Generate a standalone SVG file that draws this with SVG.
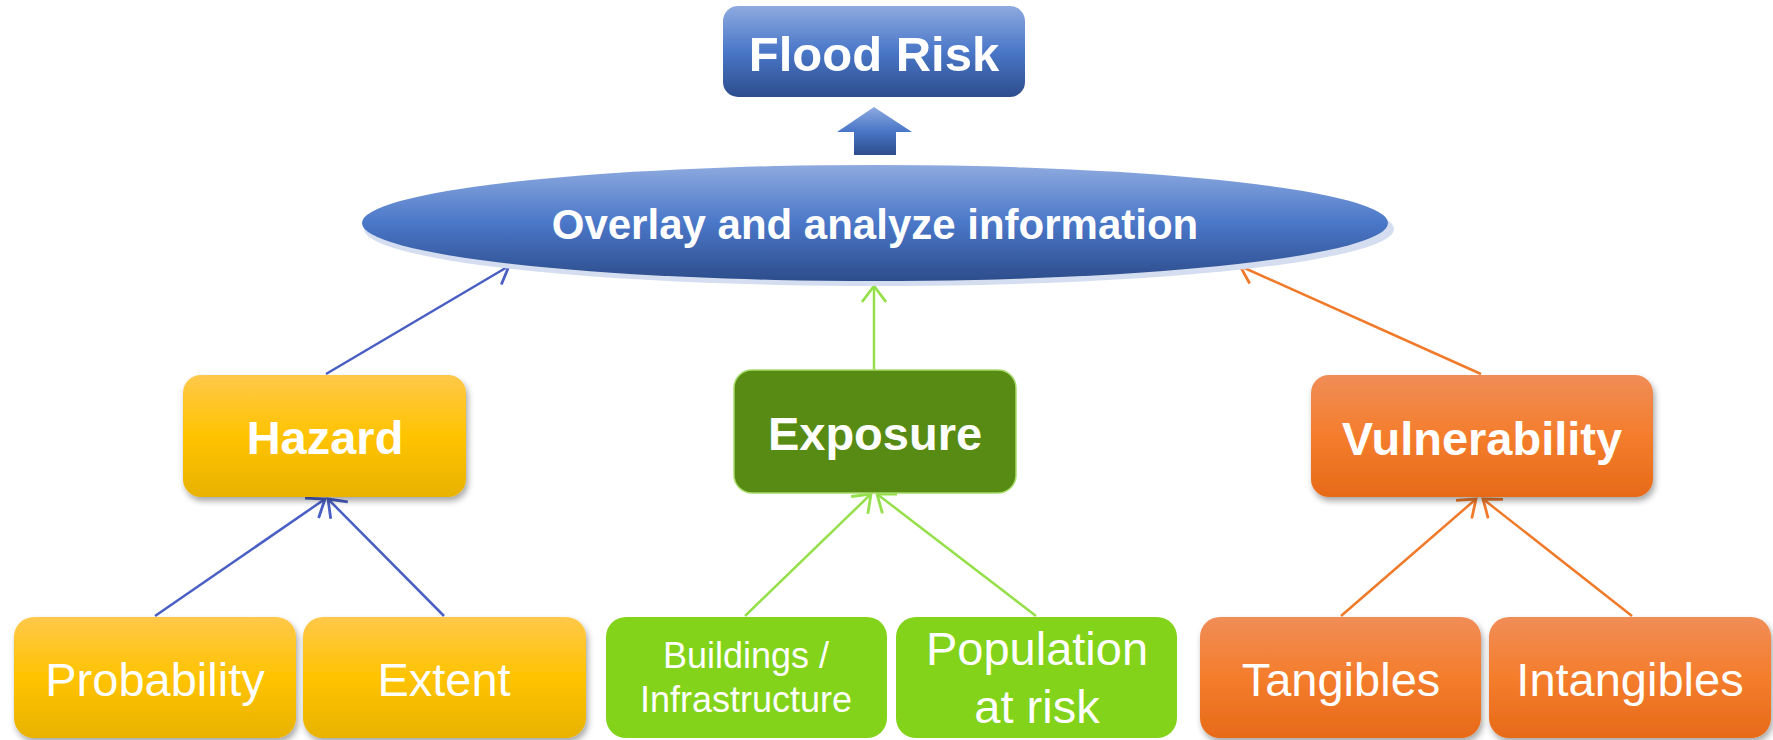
<svg xmlns="http://www.w3.org/2000/svg" width="1773" height="740" viewBox="0 0 1773 740">
<defs>
<linearGradient id="gBlue" x1="0" y1="0" x2="0" y2="1">
<stop offset="0" stop-color="#8eaadf"/><stop offset="0.5" stop-color="#4a77c8"/><stop offset="1" stop-color="#2d4d8c"/>
</linearGradient>
<linearGradient id="gYel" x1="0" y1="0" x2="0" y2="1">
<stop offset="0" stop-color="#ffc84a"/><stop offset="0.5" stop-color="#ffc300"/><stop offset="1" stop-color="#e8b200"/>
</linearGradient>
<linearGradient id="gOra" x1="0" y1="0" x2="0" y2="1">
<stop offset="0" stop-color="#f08d57"/><stop offset="0.5" stop-color="#f47d2c"/><stop offset="1" stop-color="#e76a18"/>
</linearGradient>
<filter id="sh" x="-10%" y="-10%" width="120%" height="130%">
<feDropShadow dx="2" dy="4" stdDeviation="3" flood-color="#000" flood-opacity="0.35"/>
</filter>
<marker id="aBlue" viewBox="0 0 26 26" refX="23" refY="13" markerWidth="26" markerHeight="26" markerUnits="userSpaceOnUse" orient="auto">
<path d="M7,1 L23,13 L7,25" fill="none" stroke="#4a5fc4" stroke-width="2.8"/>
</marker>
<marker id="aGreen" viewBox="0 0 26 26" refX="23" refY="13" markerWidth="26" markerHeight="26" markerUnits="userSpaceOnUse" orient="auto">
<path d="M7,1 L23,13 L7,25" fill="none" stroke="#95e04a" stroke-width="2.8"/>
</marker>
<marker id="aOra" viewBox="0 0 26 26" refX="23" refY="13" markerWidth="26" markerHeight="26" markerUnits="userSpaceOnUse" orient="auto">
<path d="M7,1 L23,13 L7,25" fill="none" stroke="#f07a2a" stroke-width="2.8"/>
</marker>
</defs>
<style>
text{font-family:"Liberation Sans",Arial,sans-serif;fill:#fff;text-anchor:middle}
.b{font-weight:bold}
.big{font-size:47px}
.lb{stroke-width:2.5;fill:none}
</style>
<rect width="1773" height="740" fill="#fff"/>

<g id="connectors">
<line class="lb" stroke="#4a5fc4" x1="326" y1="374" x2="509" y2="266" marker-end="url(#aBlue)"/>
<line class="lb" stroke="#95e04a" x1="874" y1="370" x2="874" y2="286" marker-end="url(#aGreen)"/>
<line class="lb" stroke="#f07a2a" x1="1481" y1="374" x2="1240" y2="266" marker-end="url(#aOra)"/>
<line class="lb" stroke="#4a5fc4" x1="155" y1="616" x2="325" y2="499" marker-end="url(#aBlue)"/>
<line class="lb" stroke="#4a5fc4" x1="444" y1="616" x2="328" y2="499" marker-end="url(#aBlue)"/>
<line class="lb" stroke="#95e04a" x1="745" y1="616" x2="871" y2="494" marker-end="url(#aGreen)"/>
<line class="lb" stroke="#95e04a" x1="1036" y1="616" x2="877" y2="494" marker-end="url(#aGreen)"/>
<line class="lb" stroke="#f07a2a" x1="1341" y1="616" x2="1476" y2="499" marker-end="url(#aOra)"/>
<line class="lb" stroke="#f07a2a" x1="1632" y1="616" x2="1483" y2="499" marker-end="url(#aOra)"/>
</g>

<g id="flood-risk">
<rect x="723" y="6" width="302" height="91" rx="15" fill="url(#gBlue)"/>
<text class="b" x="874" y="71" font-size="49">Flood Risk</text>
</g>

<g id="up-arrow">
<path d="M874,107 L912,132 L896,132 L896,155 L854,155 L854,132 L837,132 Z" fill="url(#gBlue)"/>
</g>

<g id="overlay">
<ellipse cx="879" cy="229" rx="515" ry="57" fill="#d5def0"/>
<ellipse cx="875" cy="223" rx="513" ry="58" fill="url(#gBlue)"/>
<text class="b" x="875" y="239" font-size="42">Overlay and analyze information</text>
</g>

<g id="hazard">
<rect x="183" y="375" width="283" height="122" rx="18" fill="url(#gYel)" filter="url(#sh)"/>
<text class="b big" x="325" y="454">Hazard</text>
</g>

<g id="exposure">
<rect x="734" y="370" width="282" height="123" rx="18" fill="#588b13" stroke="#a6dc6a" stroke-width="1.5"/>
<text class="b big" x="875" y="450">Exposure</text>
</g>

<g id="vulnerability">
<rect x="1311" y="375" width="342" height="122" rx="18" fill="url(#gOra)" filter="url(#sh)"/>
<text class="b big" x="1482" y="455">Vulnerability</text>
</g>

<g id="probability">
<rect x="14" y="617" width="282" height="121" rx="20" fill="url(#gYel)" filter="url(#sh)"/>
<text class="big" x="155" y="696">Probability</text>
</g>

<g id="extent">
<rect x="303" y="617" width="283" height="121" rx="20" fill="url(#gYel)" filter="url(#sh)"/>
<text class="big" x="444" y="696">Extent</text>
</g>

<g id="buildings">
<rect x="606" y="617" width="281" height="121" rx="20" fill="#82d319"/>
<text x="746" y="668" font-size="36">Buildings /</text>
<text x="746" y="712" font-size="36">Infrastructure</text>
</g>

<g id="population">
<rect x="896" y="617" width="281" height="121" rx="20" fill="#82d319"/>
<text class="big" x="1037" y="665">Population</text>
<text class="big" x="1037" y="723">at risk</text>
</g>

<g id="tangibles">
<rect x="1200" y="617" width="281" height="121" rx="20" fill="url(#gOra)" filter="url(#sh)"/>
<text class="big" x="1341" y="696">Tangibles</text>
</g>

<g id="intangibles">
<rect x="1489" y="617" width="282" height="121" rx="20" fill="url(#gOra)" filter="url(#sh)"/>
<text class="big" x="1630" y="696">Intangibles</text>
</g>
</svg>
